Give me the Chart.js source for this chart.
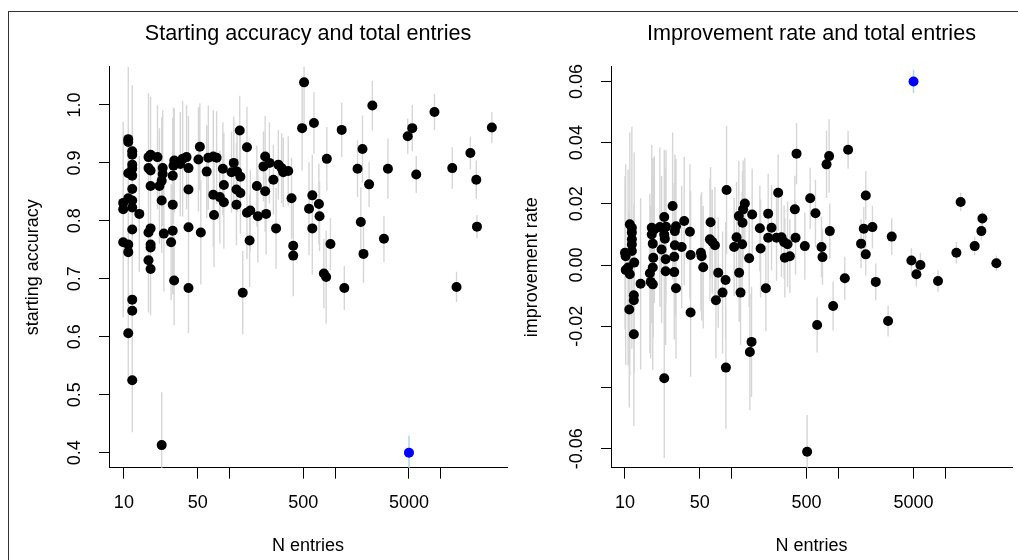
<!DOCTYPE html>
<html>
<head>
<meta charset="utf-8">
<title>Starting accuracy / improvement rate vs total entries</title>
<script src="https://cdn.jsdelivr.net/npm/chart.js@4.4.1/dist/chart.umd.min.js"></script>
<style>
  html, body { margin:0; padding:0; background:#fff; }
  body { width:1018px; height:560px; position:relative; overflow:hidden; }
  #frame { position:absolute; left:8px; top:11px; width:1030px; height:570px; border-left:1px solid #333; border-top:1px solid #333; box-sizing:border-box; }
  .panel { position:absolute; top:0; height:560px; }
  #p1 { left:0; width:512px; }
  #p2 { left:512px; width:506px; }
</style>
</head>
<body>
<div id="frame"></div>
<div class="panel" id="p1"><canvas id="c1"></canvas></div>
<div class="panel" id="p2"><canvas id="c2"></canvas></div>
<script>
// ---------- shared x axis ----------
const xTicks = [10, 50, 100, 500, 1000, 5000, 10000];
const xTickLabels = ['10', '50', '', '500', '', '5000', ''];

// ---------- left panel: starting accuracy ----------
const accTicks = [0.4, 0.5, 0.6, 0.7, 0.8, 0.9, 1.0];
const accTickLabels = ['0.4', '0.5', '0.6', '0.7', '0.8', '0.9', '1.0'];
const accN = [
  9.85,9.85,9.85,11,11,11,11,11,11,12,
  12,12,12,12,12,12,12,12,14,17.1,
  17.9,17.1,17.9,17.9,17.1,17.9,17.9,17.9,17.1,17.9,
  20.8,21.7,22.8,23.3,23.3,22.8,23.9,29,29,29,
  28,30,29.5,34.2,36,39.2,40.9,40.9,40.9,52.4,
  50.8,53.5,60.8,63,70.2,75.5,70.2,81,88.4,88.4,
  71.3,86.5,104.5,109.7,117.8,125,116.3,126.8,116.3,126.8,
  146.3,146.3,157.3,155,181.5,185.5,217.5,217.5,209.6,222,
  238.7,260.3,275.9,289.9,311.3,323,359.7,386.5,401,401,
  486.8,508,630,566,608,608,702,712,782,822,
  834,903,1153,1222,1629,1815,1750,1855,2096,2251,
  2897,3160,4867,5373,5857,8716,12850,14100,19070,21690,
  22010,30460,
  12,12,11,12,22.8,29.9,40.9,133.4
];
const accVal = [
  0.831,0.820,0.763,0.941,0.936,0.882,0.839,0.759,0.746,0.920,
  0.914,0.897,0.890,0.878,0.855,0.835,0.823,0.785,0.812,0.910,
  0.914,0.891,0.887,0.860,0.780,0.787,0.759,0.754,0.732,0.717,
  0.910,0.860,0.869,0.881,0.891,0.835,0.778,0.878,0.828,0.783,
  0.763,0.904,0.895,0.898,0.907,0.910,0.891,0.854,0.789,0.928,
  0.906,0.780,0.885,0.909,0.911,0.909,0.845,0.841,0.862,0.832,
  0.810,0.890,0.884,0.900,0.885,0.956,0.854,0.848,0.828,0.876,
  0.927,0.814,0.818,0.766,0.860,0.808,0.911,0.851,0.894,0.812,
  0.900,0.871,0.787,0.897,0.891,0.884,0.886,0.839,0.757,0.740,
  0.960,1.039,0.969,0.821,0.844,0.787,0.829,0.808,0.709,0.703,
  0.907,0.760,0.957,0.684,0.890,0.924,0.798,0.743,0.863,0.999,
  0.769,0.890,0.946,0.960,0.880,0.988,0.891,0.686,0.917,0.871,
  0.790,0.961,
  0.664,0.645,0.606,0.525,0.413,0.697,0.684,0.676
];
const accErr = [
  0.14,0.15,0.13,0.12,0.13,0.14,0.12,0.15,0.14,0.11,
  0.12,0.13,0.12,0.11,0.13,0.12,0.14,0.12,0.10,0.11,
  0.10,0.12,0.10,0.11,0.11,0.12,0.10,0.11,0.09,0.08,
  0.09,0.10,0.11,0.09,0.10,0.09,0.10,0.10,0.09,0.11,
  0.10,0.09,0.10,0.09,0.10,0.09,0.09,0.10,0.09,0.075,
  0.09,0.09,0.08,0.09,0.08,0.08,0.09,0.08,0.09,0.08,
  0.09,0.08,0.07,0.08,0.07,0.06,0.08,0.07,0.07,0.08,
  0.07,0.08,0.07,0.08,0.07,0.08,0.07,0.07,0.06,0.07,
  0.07,0.06,0.07,0.06,0.06,0.06,0.06,0.07,0.08,0.07,
  0.073,0.07,0.053,0.08,0.07,0.08,0.07,0.06,0.06,0.08,
  0.055,0.045,0.047,0.038,0.049,0.058,0.06,0.05,0.039,0.043,
  0.04,0.052,0.03,0.04,0.032,0.031,0.036,0.026,0.028,0.033,
  0.02,0.027,
  0.10,0.09,0.08,0.09,0.091,0.077,0.078,0.072
];
// highlighted entry (blue)
const accHiN = [5000];
const accHiVal = [0.400];
const accHiErr = [0.029];

// ---------- right panel: improvement rate ----------
const rateTicks = [-0.06, -0.04, -0.02, 0.00, 0.02, 0.04, 0.06];
const rateTickLabels = ['-0.06', '', '-0.02', '0.00', '0.02', '0.04', '0.06'];
const rateN = [
  11.1,11.6,11.6,11.6,11.6,11.6,10,10.15,12.2,10.7,
  17.8,18.8,17.8,21.2,23.3,24.2,23.3,23.6,18.2,22,
  18.4,24,27.9,30,29.3,35.8,40.5,29.3,33.9,28.9,
  41.1,51.3,52.1,63.2,62.3,65.5,69.4,53.9,89.2,105,
  110.6,124.7,116.1,127.5,132.2,125.8,154.8,145.1,182.7,185.5,
  218.5,234.9,218.5,271,261.6,291,308,331.6,312.8,348.5,
  388,402.5,394,481,540,605,824,812,768,1222,
  1788,1713,2064,3128,1616,1788,689,704,13800,22040,
  21560,18660,12590,4775,5800,29780,1138,2218,885,627,
  2891,5318,8475,10.15,11.1,14,12.1,12.1,10.97,12.1,
  17.1,18.2,17.4,18.2,24,28.9,30,23.3,41.1,74.5,
  87.3,81.8,70.9,87.9,116.9,120.5,152.7,147.3,207.8,505.5
];
const rateVal = [
  0.0133,0.0122,0.0106,0.0084,0.0067,0.0046,0.0040,0.0029,0.0008,-0.0008,
  0.0122,0.0116,0.0100,0.0124,0.0157,0.0125,0.0100,0.0086,0.0070,0.0051,
  0.0024,0.0019,0.0193,0.0127,0.0111,0.0144,0.0109,0.0065,0.0059,0.0027,
  0.0033,0.0040,0.0029,0.0140,0.0084,0.0076,0.0065,-0.0007,0.0245,0.0059,
  0.0091,0.0068,0.0160,0.0182,0.0201,0.0138,0.0165,0.0022,0.0120,0.0054,
  0.0168,0.0122,0.0089,0.0236,0.0089,0.0091,0.0075,0.0068,0.0024,0.0029,
  0.0182,0.0364,0.0089,0.0062,0.0218,0.0169,0.0111,0.0356,0.0329,0.0377,
  0.0227,0.0119,0.0124,0.0093,0.0070,0.0035,0.0059,0.0026,0.0206,0.0152,
  0.0111,0.0062,0.0040,0.0015,0.0000,0.0006,-0.0043,-0.0055,-0.0134,-0.0196,
  -0.0183,-0.0030,-0.0052,-0.0016,-0.0030,-0.0061,-0.0099,-0.0115,-0.0145,-0.0226,
  -0.0027,-0.0008,-0.0055,-0.0063,-0.0020,-0.0023,-0.0076,-0.0370,-0.0155,-0.0025,
  -0.0049,-0.0090,-0.0115,-0.0335,-0.0025,-0.0090,-0.0251,-0.0284,-0.0076,-0.0610
];
const rateErr = [
  0.030,0.033,0.028,0.031,0.034,0.029,0.025,0.030,0.036,0.032,
  0.027,0.024,0.029,0.026,0.022,0.025,0.027,0.023,0.028,0.024,
  0.026,0.028,0.024,0.022,0.025,0.021,0.022,0.023,0.020,0.024,
  0.021,0.019,0.021,0.018,0.020,0.017,0.019,0.020,0.021,0.016,
  0.018,0.017,0.018,0.016,0.015,0.017,0.015,0.016,0.014,0.016,
  0.013,0.014,0.015,0.0125,0.014,0.013,0.012,0.014,0.013,0.012,
  0.011,0.010,0.012,0.011,0.010,0.011,0.009,0.012,0.011,0.0062,
  0.008,0.007,0.007,0.006,0.008,0.007,0.010,0.009,0.003,0.0025,
  0.0028,0.003,0.0035,0.004,0.004,0.0025,0.007,0.006,0.008,0.009,
  0.005,0.004,0.0035,0.031,0.033,0.028,0.030,0.029,0.032,0.030,
  0.026,0.027,0.025,0.028,0.024,0.022,0.023,0.026,0.021,0.018,
  0.019,0.020,0.019,0.020,0.016,0.017,0.018,0.019,0.014,0.012
];
const rateHiN = [5000];
const rateHiVal = [0.060];
const rateHiErr = [0.0038];

// ---------- helpers ----------
const FONT = '"Liberation Sans", Arial, Helvetica, sans-serif';
Chart.defaults.font.family = FONT;
Chart.defaults.color = '#000';

function points(xs, ys) { return xs.map((x, i) => ({ x: x, y: ys[i] })); }
function errorSegments(xs, ys, es) {
  const out = [];
  xs.forEach((x, i) => {
    out.push({ x: x, y: ys[i] - es[i] }, { x: x, y: ys[i] + es[i] }, { x: x, y: null });
  });
  return out;
}

function makePanel(id, p) {
  const font = { family: FONT, size: 18 };
  return new Chart(document.getElementById(id), {
    type: 'scatter',
    data: {
      datasets: [
        { data: points(p.hiN, p.hiVal), pointRadius: 5, pointHoverRadius: 5, backgroundColor: '#0000ff', borderWidth: 0, order: 0 },
        { data: points(p.n, p.val), pointRadius: 5, pointHoverRadius: 5, backgroundColor: '#000000', borderWidth: 0, order: 1 },
        { data: errorSegments(p.hiN, p.hiVal, p.hiErr), showLine: true, spanGaps: false, borderColor: '#add8e6', borderWidth: 1.5, pointRadius: 0, order: 2 },
        { data: errorSegments(p.n, p.val, p.err), showLine: true, spanGaps: false, borderColor: '#d6d6d6', borderWidth: 1.4, pointRadius: 0, order: 3 }
      ]
    },
    options: {
      responsive: true,
      maintainAspectRatio: false,
      animation: false,
      events: [],
      layout: { padding: { left: 0, right: p.rightPad, top: 0, bottom: 0 } },
      plugins: {
        legend: { display: false },
        tooltip: { enabled: false },
        title: {
          display: true, text: p.title, fullSize: false, color: '#000',
          font: { family: FONT, size: 21.6, weight: 'normal', lineHeight: 1.2 },
          padding: { top: 21.3, bottom: 19.5 }
        }
      },
      scales: {
        x: {
          type: 'logarithmic', position: 'bottom', bounds: 'data',
          min: p.xMin, max: p.xMax,
          afterBuildTicks: s => { s.ticks = xTicks.map(v => ({ value: v })); },
          afterFit: s => { s.height = 92.3; },
          ticks: { autoSkip: false, minRotation: 0, maxRotation: 0, padding: 13.6, color: '#000', font: font,
                   callback: (v, i) => xTickLabels[i] },
          grid: { display: true, drawOnChartArea: false, drawTicks: true, tickLength: 11, tickColor: '#000', tickWidth: 1 },
          border: { display: true, color: '#000', width: 1 },
          title: { display: true, text: 'N entries', color: '#000', font: font, padding: { top: 0, bottom: 3.4 } }
        },
        y: {
          type: 'linear', position: 'left', bounds: 'data',
          min: p.yMin, max: p.yMax,
          afterBuildTicks: s => { s.ticks = p.yTicks.map(v => ({ value: v })); },
          afterFit: s => { s.width = p.yWidth; },
          ticks: { autoSkip: false, minRotation: 90, maxRotation: 90, crossAlign: 'center', padding: p.yTickPad,
                   color: '#000', font: font, callback: (v, i) => p.yLabels[i] },
          grid: { display: true, drawOnChartArea: false, drawTicks: true, tickLength: 10, tickColor: '#000', tickWidth: 1 },
          border: { display: true, color: '#000', width: 1 },
          title: { display: true, text: p.yTitle, color: '#000', font: font, padding: { top: p.yTitlePad, bottom: 0 } }
        }
      }
    }
  });
}

makePanel('c1', {
  title: 'Starting accuracy and total entries',
  yTitle: 'starting accuracy',
  n: accN, val: accVal, err: accErr,
  hiN: accHiN, hiVal: accHiVal, hiErr: accHiErr,
  xMin: 7.23, xMax: 42360,
  yMin: 0.374, yMax: 1.066,
  yTicks: accTicks, yLabels: accTickLabels,
  yWidth: 109, yTickPad: 11.5, yTitlePad: 22.4, rightPad: 1
});

makePanel('c2', {
  title: 'Improvement rate and total entries',
  yTitle: 'improvement rate',
  n: rateN, val: rateVal, err: rateErr,
  hiN: rateHiN, hiVal: rateHiVal, hiErr: rateHiErr,
  xMin: 7.40, xMax: 41700,
  yMin: -0.0662, yMax: 0.0648,
  yTicks: rateTicks, yLabels: rateTickLabels,
  yWidth: 99, yTickPad: 3.5, yTitlePad: 9.4, rightPad: 6
});
</script>
</body>
</html>
